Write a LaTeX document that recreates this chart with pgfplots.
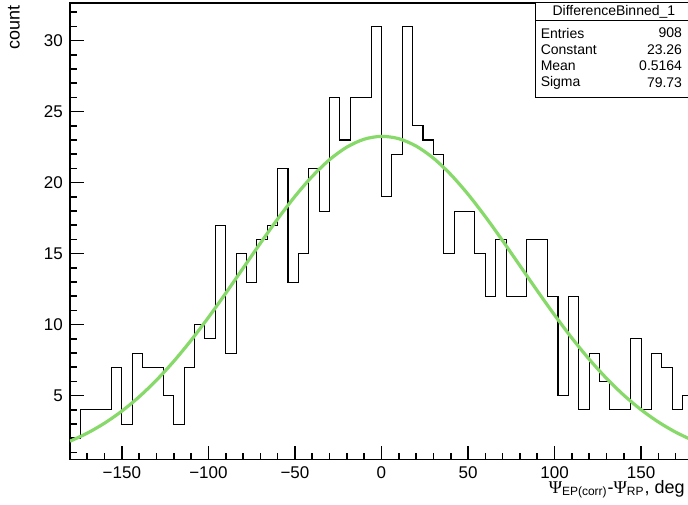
\documentclass[border=0pt]{standalone}
\usepackage{fontspec}
\setmainfont{Liberation Sans}
\newfontfamily\greek{Liberation Serif}
\usepackage{pgfplots}
\pgfplotsset{compat=1.18}
\definecolor{fitgreen}{RGB}{135,218,105}

% histogram: left bin edge, count (last row closes the final bin)
\pgfplotstableread{
x y
-180 2
-174 4
-168 4
-162 4
-156 7
-150 3
-144 8
-138 7
-132 7
-126 5
-120 3
-114 7
-108 10
-102 9
-96 17
-90 8
-84 15
-78 13
-72 16
-66 17
-60 21
-54 13
-48 15
-42 21
-36 18
-30 26
-24 23
-18 26
-12 26
-6 31
0 19
6 22
12 31
18 24
24 23
30 22
36 15
42 18
48 18
54 15
60 12
66 16
72 12
78 12
84 16
90 16
96 12
102 5
108 12
114 4
120 8
126 6
132 4
138 4
144 9
150 4
156 8
162 7
168 4
174 5
180 5
}\histdata

% gaus fit, read off at 10 deg steps
\pgfplotstableread{
x y
-180 1.792
-170 2.362
-160 3.066
-150 3.915
-140 4.922
-130 6.092
-120 7.421
-110 8.900
-100 10.507
-90 12.210
-80 13.969
-70 15.730
-60 17.439
-50 19.030
-40 20.443
-30 21.617
-20 22.502
-10 23.059
0 23.260
10 23.096
20 22.576
30 21.723
40 20.576
50 19.185
60 17.609
70 15.910
80 14.151
90 12.390
100 10.679
110 9.060
120 7.567
130 6.222
140 5.035
150 4.011
160 3.146
170 2.429
180 1.845
}\fitdata

\begin{document}
\begin{tikzpicture}
\begin{axis}[
  scale only axis,
  width=311.8pt, height=228.5pt,
  xmin=-180, xmax=180, ymin=0.5, ymax=32.65,
  axis line style={line width=0.6pt},
  xtick={-150,-100,-50,0,50,100,150},
  xticklabels={−150,−100,−50,0,50,100,150},
  minor xtick={-170,-160,...,170},
  ytick={5,10,...,30},
  minor ytick={1,2,...,32},
  tick align=inside,
  tick pos=left,
  major tick length=7pt,
  minor tick length=3.5pt,
  major tick style={black, line width=0.8pt},
  minor tick style={black, line width=0.8pt},
  ticklabel style={font=\fontsize{8.5}{10}\selectfont},
  /pgf/number format/assume math mode=true,
  xlabel={{\greek Ψ}\textsubscript{EP(corr)}-{\greek Ψ}\textsubscript{RP}, deg},
  xlabel style={at={(rel axis cs:1,0)}, anchor=north east, yshift=-10pt, xshift=-4pt,
    font=\fontsize{9}{10}\selectfont, inner sep=0pt},
  ylabel={count},
  ylabel style={at={(rel axis cs:-0.080,0.995)}, anchor=south east,
    font=\fontsize{9}{10}\selectfont, inner sep=0pt},
]
\addplot[black, line width=0.55pt, const plot mark left, mark=none] table[x=x,y=y] {\histdata};
\addplot[fitgreen, line width=1.6pt, smooth, mark=none] table[x=x,y=y] {\fitdata};

% stats box
\draw[line width=0.5pt, fill=white] (rel axis cs:0.747,0.794) rectangle (rel axis cs:1,1);
\draw[line width=0.5pt] (rel axis cs:0.747,0.961) -- (rel axis cs:1,0.961);
\begin{scope}[every node/.style={font=\fontsize{7}{8}\selectfont, inner sep=0pt}]
\node[anchor=center] at (rel axis cs:0.873,0.980) {DifferenceBinned\_1};
\node[anchor=west] at (rel axis cs:0.755,0.934) {Entries};
\node[anchor=west] at (rel axis cs:0.755,0.897) {Constant};
\node[anchor=west] at (rel axis cs:0.755,0.862) {Mean};
\node[anchor=west] at (rel axis cs:0.755,0.825) {Sigma};
\node[anchor=east] at (rel axis cs:0.983,0.934) {908};
\node[anchor=east] at (rel axis cs:0.983,0.897) {23.26};
\node[anchor=east] at (rel axis cs:0.983,0.862) {0.5164};
\node[anchor=east] at (rel axis cs:0.983,0.825) {79.73};
\end{scope}
\end{axis}
\pgfresetboundingbox
\path ([xshift=-35pt,yshift=-22.5pt]current axis.south west) rectangle ([xshift=-2.5pt,yshift=1.5pt]current axis.north east);
\end{tikzpicture}
\end{document}
